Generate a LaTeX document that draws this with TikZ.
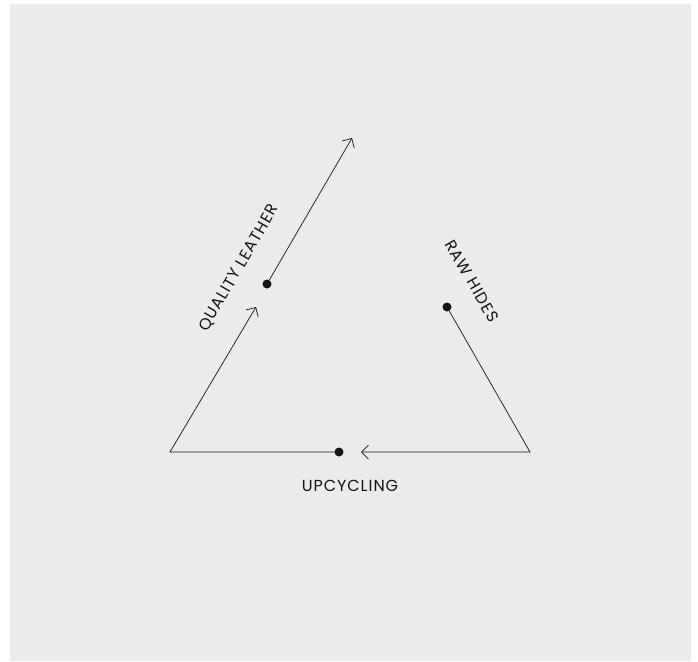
\documentclass[tikz,border=0pt]{standalone}
\usepackage{fontspec}
\setmainfont{Poppins}[LetterSpace=6]
\usetikzlibrary{arrows.meta,positioning}
\definecolor{cyBg}{HTML}{EBEBEB}
\definecolor{cyInk}{HTML}{141414}
\tikzset{
  % Dot where a stage starts
  stagedot/.style={circle,fill=cyInk,inner sep=0pt,minimum size=9pt},
  % Stage label
  stagelbl/.style={font=\fontsize{16}{19}\selectfont,text=cyInk,inner sep=0pt},
  % Connectors
  flow/.style={-{Straight Barb[length=7pt,width=14pt]},line width=0.7pt,color=cyInk},
  seg/.style={line width=0.7pt,color=cyInk},
}
\begin{document}
\begin{tikzpicture}[x=1pt,y=-1pt]
  \useasboundingbox (0,0) rectangle (698,661);
  \fill[cyBg] (10,4) rectangle (691,661);

  %% --- STAGES ---
  \node[stagedot] (hides) at (447,307) {};
  \node[stagedot] (upcyc) at (339,452) {};
  \node[stagedot] (leather) at (267,284) {};

  %% --- CORNERS AND TIPS ---
  \coordinate (cornerR) at (530,452);
  \coordinate (cornerL) at (170,452);
  \coordinate (tipU) at (361,452);
  \coordinate (tipL) at (256,307);
  \coordinate (tipT) at (352,138);

  \draw[flow] (hides) -- (cornerR) -- (tipU);
  \draw[flow] (upcyc) -- (cornerL) -- (tipL);
  \draw[flow] (leather) -- (tipT);

  %% --- LABELS ---
  \node[stagelbl,rotate=60] (lblLeather) at (239,268) {QUALITY LEATHER};
  \node[stagelbl,rotate=-60] (lblHides) at (472,281) {RAW HIDES};
  \node[stagelbl] (lblUpcyc) at (350,486) {UPCYCLING};
\end{tikzpicture}
\end{document}
